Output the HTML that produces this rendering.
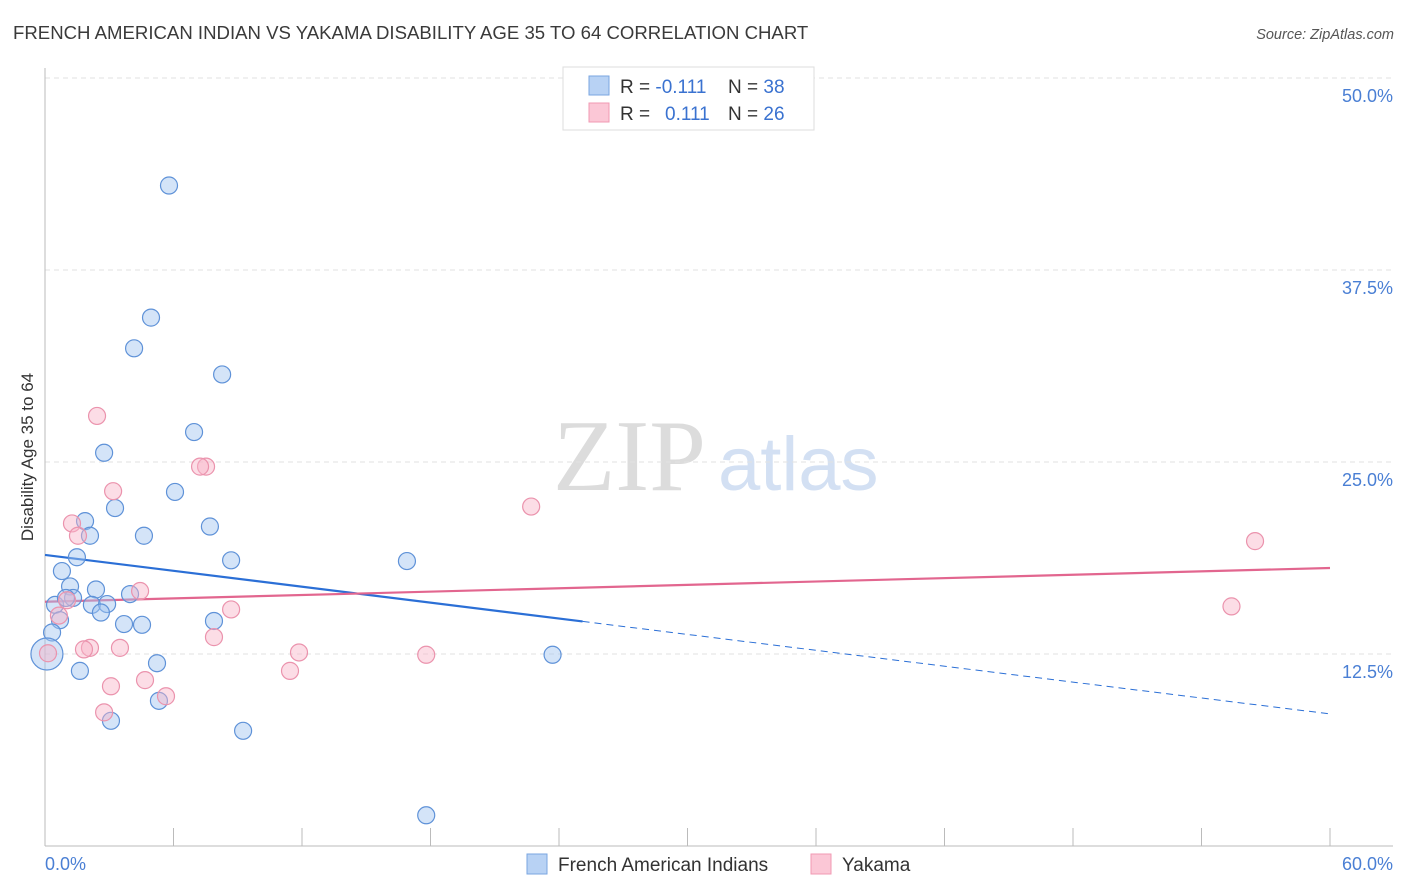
<!DOCTYPE html>
<html><head><meta charset="utf-8">
<style>
body{margin:0;background:#fff;font-family:"Liberation Sans",sans-serif;}
svg{display:block}
</style></head>
<body>
<svg id="chart" width="1406" height="892">
<text x="13" y="39" font-size="18.6" fill="#3a3a3a">FRENCH AMERICAN INDIAN VS YAKAMA DISABILITY AGE 35 TO 64 CORRELATION CHART</text>
<text x="1394" y="39" font-size="14.5" fill="#555" font-style="italic" text-anchor="end">Source: ZipAtlas.com</text>
<text x="0" y="0" font-size="17" fill="#333" transform="translate(33,457) rotate(-90)" text-anchor="middle">Disability Age 35 to 64</text>
<text x="553" y="490" font-size="102" fill="#dcdcdc" font-family="Liberation Serif,serif">ZIP</text>
<text x="718" y="490" font-size="76" fill="#d3e0f3">atlas</text>
<g id="grid"></g><g id="axes"></g><g id="trend"></g><g id="pts"></g>
<g>
<rect x="563" y="67" width="251" height="63" fill="#fff" stroke="#ddd"/>
<rect x="589" y="76" width="20" height="19" fill="#b8d2f4" stroke="#7aa6e0"/>
<rect x="589" y="103" width="20" height="19" fill="#fbc7d6" stroke="#f09ab3"/>
<text x="620" y="93" font-size="19" fill="#333">R = <tspan fill="#3a72d0">-0.111</tspan><tspan x="728">N = </tspan><tspan fill="#3a72d0">38</tspan></text>
<text x="620" y="120" font-size="19" fill="#333">R = <tspan x="665" fill="#3a72d0">0.111</tspan><tspan x="728">N = </tspan><tspan fill="#3a72d0">26</tspan></text>
</g>
<g>
<rect x="527" y="854" width="20" height="20" fill="#b8d2f4" stroke="#7aa6e0"/>
<text x="558" y="871" font-size="19" fill="#333">French American Indians</text>
<rect x="811" y="854" width="20" height="20" fill="#fbc7d6" stroke="#f09ab3"/>
<text x="842" y="871" font-size="19" fill="#333">Yakama</text>
</g>
</svg>
<script>
const yTicks=[12.5,25,37.5,50];
const yTickLabels=["12.5%","25.0%","37.5%","50.0%"];
const xLabels=["0.0%","60.0%"];
const blueX=[5.79,4.95,4.16,8.27,6.96,2.76,6.07,3.27,1.87,7.70,4.62,2.10,8.69,16.9,1.49,0.79,1.17,2.38,3.97,1.31,0.47,2.19,2.90,2.61,0.70,7.89,3.69,4.53,0.33,0.09,5.23,1.63,23.7,5.32,3.08,9.25,17.8,0.98];
const blueY=[43.0,34.4,32.4,30.7,26.95,25.6,23.05,22.0,21.15,20.8,20.2,20.2,18.6,18.55,18.8,17.9,16.9,16.7,16.4,16.15,15.7,15.7,15.75,15.2,14.7,14.65,14.45,14.4,13.9,12.5,11.9,11.4,12.45,9.45,8.15,7.5,2.0,16.15];
const pinkX=[2.43,7.52,7.24,3.18,22.7,1.26,1.54,56.5,4.44,1.03,0.65,8.69,55.4,7.89,2.10,1.82,3.50,11.86,17.8,0.14,11.44,3.08,4.67,5.65,2.76];
const pinkY=[28.0,24.7,24.7,23.1,22.1,21.0,20.2,19.85,16.6,16.0,15.0,15.4,15.6,13.6,12.9,12.8,12.9,12.6,12.45,12.55,11.4,10.4,10.8,9.75,8.7];
const blueTrend=[18.95,8.6]; const blueSolidEnd=25.1;
const pinkTrend=[15.9,18.1];
const X=v=>45+v/60*1285, Y=v=>846-v/50*768;
const NS="http://www.w3.org/2000/svg";
function mk(parent,tag,attrs){const e=document.createElementNS(NS,tag);for(const k in attrs)e.setAttribute(k,attrs[k]);document.getElementById(parent).appendChild(e);return e;}
yTicks.forEach((t,i)=>{
 const l=mk('grid','line',{x1:45,x2:1393,y1:Y(t),y2:Y(t),stroke:'#e2e2e2','stroke-dasharray':'5,4'});
 
 
 const tx=mk('grid','text',{x:1393,y:Y(t)+24,'text-anchor':'end','font-size':18,fill:'#4a7fd4'});
 tx.textContent=yTickLabels[i];
 
 
});
let a=mk('axes','line',{x1:45,x2:45,y1:68,y2:846,stroke:'#bbb'});


a=mk('axes','line',{x1:45,x2:1393,y1:846,y2:846,stroke:'#bbb'});


for(let i=1;i<=10;i++){const t=mk('axes','line',{x1:X(i*6),x2:X(i*6),y1:828,y2:846,stroke:'#bbb'});
 
 }
let xl=mk('axes','text',{x:45,y:870,'font-size':18,fill:'#4a7fd4'});xl.textContent=xLabels[0];


xl=mk('axes','text',{x:1393,y:870,'font-size':18,fill:'#4a7fd4','text-anchor':'end'});xl.textContent=xLabels[1];


function ty(tr,x){return tr[0]+(tr[1]-tr[0])*x/60;}
let tl=mk('trend','line',{x1:X(0),y1:Y(blueTrend[0]),x2:X(blueSolidEnd),y2:Y(ty(blueTrend,blueSolidEnd)),stroke:'#2b6fd6','stroke-width':2.2});


tl=mk('trend','line',{x1:X(blueSolidEnd),y1:Y(ty(blueTrend,blueSolidEnd)),x2:X(60),y2:Y(blueTrend[1]),stroke:'#2b6fd6','stroke-width':1,'stroke-dasharray':'7,5'});


tl=mk('trend','line',{x1:X(0),y1:Y(pinkTrend[0]),x2:X(60),y2:Y(pinkTrend[1]),stroke:'#e2668f','stroke-width':2.2});


blueX.forEach((x,i)=>{const c=mk('pts','circle',{cx:X(x),cy:Y(blueY[i]),r:i==29?16:8.5,fill:'rgba(160,196,240,0.45)',stroke:'#5f92d8','stroke-width':1.2});
 
 });
pinkX.forEach((x,i)=>{const c=mk('pts','circle',{cx:X(x),cy:Y(pinkY[i]),r:8.5,fill:'rgba(248,180,200,0.45)',stroke:'#eb93ad','stroke-width':1.2});
 
 });
</script>
</body></html>
